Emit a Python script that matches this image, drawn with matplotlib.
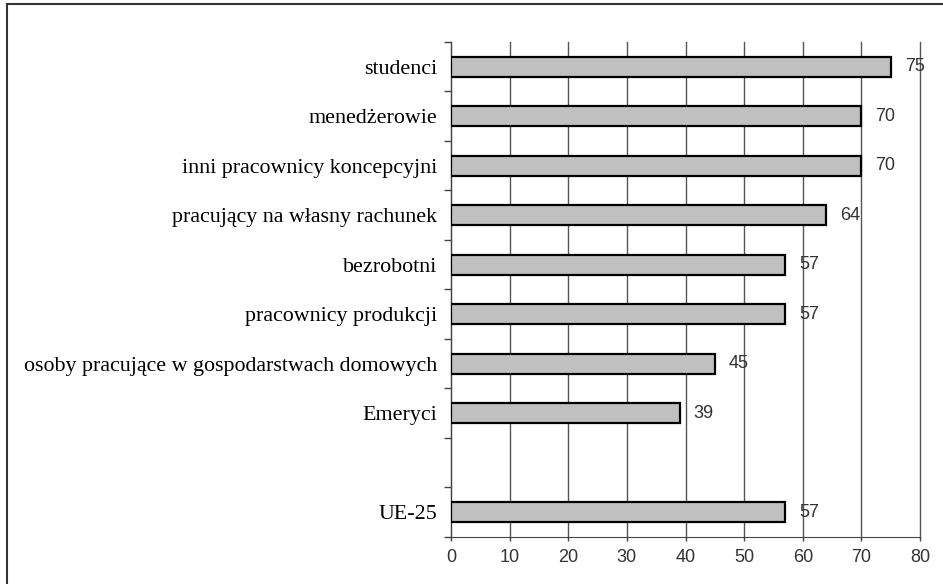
import numpy as np
import matplotlib
matplotlib.use("Agg")
import matplotlib.pyplot as plt
from matplotlib.lines import Line2D

# categories top to bottom, '' is the empty gap row
categories = ['studenci', 'menedżerowie', 'inni pracownicy koncepcyjni',
              'pracujący na własny rachunek', 'bezrobotni', 'pracownicy produkcji',
              'osoby pracujące w gospodarstwach domowych', 'Emeryci', '', 'UE-25']
values = [75, 70, 70, 64, 57, 57, 45, 39, None, 57]
xticks = [0, 10, 20, 30, 40, 50, 60, 70, 80]

fig = plt.figure(figsize=(9.43, 5.84), dpi=100)
ax = fig.add_axes([451/943, 1-537/584, (920-451)/943, (537-42)/584])

pos = np.arange(len(categories))
for p, v in zip(pos, values):
    if v is None:
        continue
    ax.barh(p, v, height=0.4, color='#c0c0c0', edgecolor='black', linewidth=1.6, zorder=3)
    ax.text(v + 2.4, p, str(v), va='center', ha='left', fontsize=13,
            family='Liberation Sans', color='#333333', zorder=4)

ax.set_xlim(0, 80)
ax.set_ylim(len(categories) - 0.5, -0.5)
ax.set_xticks(xticks)
ax.set_xticklabels([str(t) for t in xticks], family='Liberation Sans', fontsize=13, color='#333333')
ax.set_yticks(pos)
ax.set_yticklabels(categories, family='Liberation Serif', fontsize=15.8, color='black')
ax.set_yticks(np.arange(-0.5, len(categories)), minor=True)
ax.tick_params(axis='y', which='major', length=0, pad=10)
ax.tick_params(axis='y', which='minor', length=5, width=1, color='#444444', direction='out')
ax.tick_params(axis='x', length=3, width=1, color='#444444', pad=6)

ax.xaxis.grid(True, color='#555555', linewidth=1, zorder=0)
for g in ax.xaxis.get_gridlines():
    g.set_clip_on(False)
ax.set_axisbelow(True)
ax.spines['top'].set_visible(False)
ax.spines['right'].set_visible(False)
ax.spines['left'].set_color('#444444')
ax.spines['bottom'].set_color('#444444')

# frame around the picture (left and top edges visible)
fig.add_artist(Line2D([7/943, 7/943], [0, 1-4/584], color='#333333', linewidth=1.5))
fig.add_artist(Line2D([7/943, 1], [1-4/584, 1-4/584], color='#333333', linewidth=1.5))

fig.savefig('out.png', dpi=100)
